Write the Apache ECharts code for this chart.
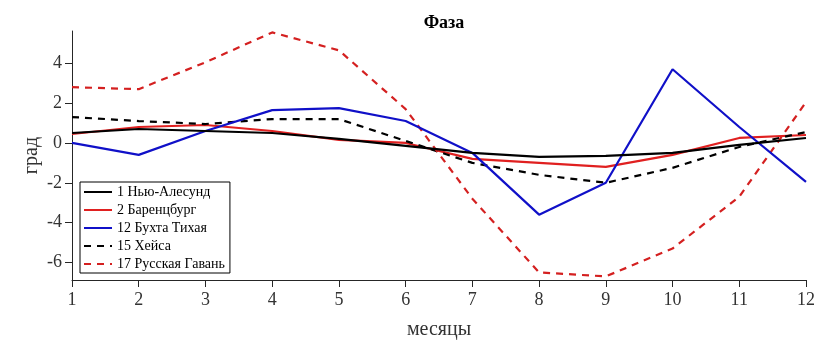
<!DOCTYPE html>
<html><head><meta charset="utf-8">
<script src="https://cdn.jsdelivr.net/npm/echarts@6/dist/echarts.min.js"></script>
<style>html,body{margin:0;padding:0;background:#fff}#c{width:827px;height:347px}</style>
</head><body><div id="c"></div>
<script>
const months = [1,2,3,4,5,6,7,8,9,10,11,12];
const yTicks = [-6,-4,-2,0,2,4];
const names = ['1 Нью-Алесунд','2 Баренцбург','12 Бухта Тихая','15 Хейса','17 Русская Гавань'];
const nyAlesund   = [0.5, 0.7, 0.6, 0.5, 0.2, -0.15, -0.5, -0.7, -0.65, -0.5, -0.1, 0.25];
const barentsburg = [0.45, 0.8, 0.9, 0.6, 0.15, 0.0, -0.8, -1.0, -1.2, -0.6, 0.25, 0.4];
const tikhaya     = [0, -0.6, 0.6, 1.65, 1.75, 1.1, -0.5, -3.6, -2.0, 3.7, 0.8, -1.95];
const heiss       = [1.3, 1.1, 0.95, 1.2, 1.2, 0.1, -1.0, -1.6, -2.0, -1.25, -0.2, 0.55];
const gavan       = [2.8, 2.7, 4.05, 5.55, 4.65, 1.7, -2.8, -6.5, -6.7, -5.3, -2.7, 2.05];

const seriesData = [nyAlesund, barentsburg, tikhaya, heiss, gavan];
const colors = ['#000000','#e02020','#1010c8','#000000','#d42020'];
const dashes = ['solid','solid','solid',[7,6],[7,6]];
const font = 'Liberation Serif, Times New Roman, serif';

const chart = echarts.init(document.getElementById('c'), null, {renderer:'canvas'});
chart.setOption({
  animation:false,
  backgroundColor:'#fff',
  title:{text:'Фаза',left:439,textAlign:'center',top:9,textStyle:{fontFamily:font,fontWeight:'bold',fontSize:18,color:'#000'}},
  grid:{left:72,right:21,top:31,bottom:67},
  legend:{orient:'vertical',left:80,top:182,backgroundColor:'#fff',borderColor:'#000',borderWidth:1,padding:[3,5,2,3],
    itemWidth:28,itemHeight:12,itemGap:4,
    itemStyle:{opacity:0},
    textStyle:{fontFamily:font,fontSize:14,color:'#000'},data:names},
  xAxis:{type:'value',min:1,max:12,interval:1,
    name:'месяцы',nameLocation:'middle',nameGap:40,nameTextStyle:{fontFamily:font,fontSize:20,color:'#333'},
    axisLine:{onZero:false,lineStyle:{color:'#262626',width:1}},
    axisTick:{show:true,length:7,inside:false,lineStyle:{color:'#262626'}},
    axisLabel:{fontFamily:font,fontSize:18,color:'#333',margin:11},
    splitLine:{show:false}},
  yAxis:{type:'value',min:-6.88,max:5.62,
    name:'град',nameLocation:'middle',nameGap:30,nameMoveOverlap:false,nameTextStyle:{fontFamily:font,fontSize:20,color:'#333'},
    axisLine:{show:true,onZero:false,lineStyle:{color:'#262626',width:1}},
    axisTick:{show:true,length:7,customValues:yTicks,lineStyle:{color:'#262626'}},
    axisLabel:{fontFamily:font,fontSize:18,color:'#333',margin:10,customValues:yTicks},
    splitLine:{show:false}},
  series: seriesData.map((d,i)=>({
    name:names[i],type:'line',symbol:'none',
    data:months.map((m,j)=>[m,d[j]]),
    lineStyle:{color:colors[i],width:2.2,type:dashes[i]},
    itemStyle:{color:colors[i]},
    z: i===0?5:(i===2?4:3)
  }))
});
</script></body></html>
